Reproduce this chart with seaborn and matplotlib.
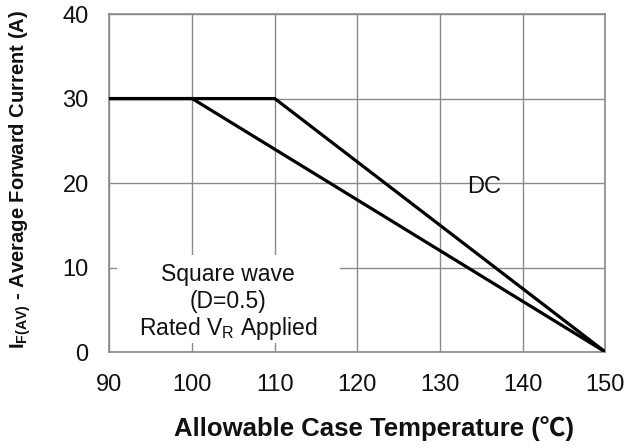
import matplotlib
matplotlib.use("Agg")
import matplotlib.pyplot as plt
import seaborn as sns
import pandas as pd
from matplotlib.patches import Rectangle

# ---- data ----
dc_temp = [90, 110, 150]
dc_current = [30, 30, 0]
sq_temp = [90, 100, 150]
sq_current = [30, 30, 0]
x_ticks = [90, 100, 110, 120, 130, 140, 150]
y_ticks = [0, 10, 20, 30, 40]

df = pd.DataFrame({
    "temp": dc_temp + sq_temp,
    "current": dc_current + sq_current,
    "series": ["DC"] * len(dc_temp) + ["Square"] * len(sq_temp),
})

sns.set_style("white")
plt.rcParams["font.family"] = ["Liberation Sans", "Noto Sans CJK SC", "DejaVu Sans"]
plt.rcParams["mathtext.fontset"] = "custom"
plt.rcParams["mathtext.rm"] = "Liberation Sans"
plt.rcParams["mathtext.bf"] = "Liberation Sans:bold"

fig = plt.figure(figsize=(6.44, 4.47), dpi=100)
ax = fig.add_axes([0.170, 0.2125, 0.770, 0.756])

grid_col = "#8a8a8a"
sns.lineplot(data=df, x="temp", y="current", hue="series",
             palette=["black", "black"], legend=False, linewidth=2.3,
             ax=ax, zorder=3)

ax.set_xlim(90, 150)
ax.set_ylim(0, 40)
ax.set_xticks(x_ticks)
ax.set_yticks(y_ticks)
ax.set_axisbelow(True)
ax.grid(True, color=grid_col, linewidth=1.0)
for s in ax.spines.values():
    s.set_color(grid_col)
    s.set_linewidth(1.2)
ax.tick_params(axis="both", length=0, labelsize=17, colors="#111111")
ax.tick_params(axis="y", pad=15)
ax.tick_params(axis="x", pad=15.5)

# white background for annotation block
ax.add_patch(Rectangle((0.015, 0.027), 0.45, 0.26, transform=ax.transAxes,
                       facecolor="white", edgecolor="none", zorder=1))

ax.text(0.239, 8.40 / 40, "Square wave", transform=ax.transAxes,
        ha="center", va="baseline", fontsize=16.5, color="#111111", zorder=4)
ax.text(0.239, 5.21 / 40, "(D=0.5)", transform=ax.transAxes,
        ha="center", va="baseline", fontsize=16.5, color="#111111", zorder=4)
ax.text(0.239, 2.01 / 40, r"Rated V$_{\mathregular{R}}$ Applied", transform=ax.transAxes,
        ha="center", va="baseline", fontsize=16.5, color="#111111", zorder=4)
ax.text(0.755, 18.85 / 40, "DC", transform=ax.transAxes,
        ha="center", va="baseline", fontsize=17, color="#111111", zorder=4)

ax.set_xlabel("Allowable Case Temperature (℃)", fontsize=18.5, fontweight="bold",
              color="#111111")
ax.set_ylabel(r"I$_{\mathbf{F(AV)}}$ - Average Forward Current (A)", fontsize=14.5,
              fontweight="bold", color="#111111")
ax.xaxis.set_label_coords(0.533, -0.19)
ax.yaxis.set_label_coords(-0.154, 0.512)

fig.savefig("out.png", dpi=100)
